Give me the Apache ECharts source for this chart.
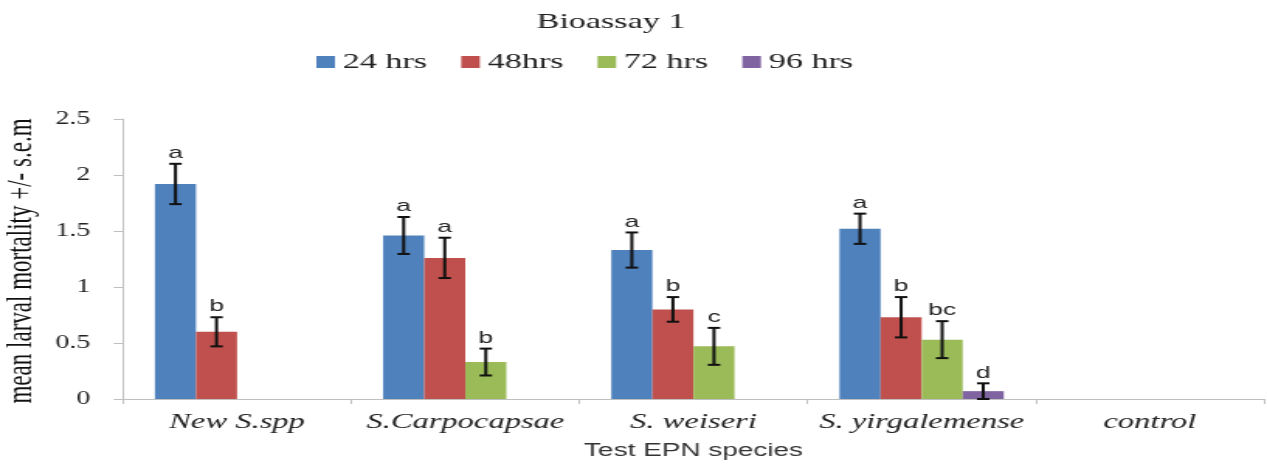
<!DOCTYPE html>
<html>
<head>
<meta charset="utf-8">
<script src="https://cdn.jsdelivr.net/npm/echarts@6/dist/echarts.min.js"></script>
<style>
html,body{margin:0;padding:0;background:#fff;overflow:hidden;}
#chart{width:817px;height:465px;transform:scaleX(1.5508);transform-origin:0 0;}
</style>
</head>
<body>
<div id="chart"></div>
<script>
// ---- data ----
const categories = ['New S.spp', 'S.Carpocapsae', 'S. weiseri', 'S. yirgalemense', 'control'];
const seriesNames = ['24 hrs', '48hrs', '72 hrs', '96 hrs'];
const h24 = [1.92, 1.46, 1.33, 1.52, 0];
const h48 = [0.60, 1.26, 0.80, 0.73, 0];
const h72 = [0, 0.33, 0.47, 0.53, 0];
const h96 = [0, 0, 0, 0.07, 0];
const err24 = [0.18, 0.165, 0.157, 0.135, null];
const err48 = [0.13, 0.18, 0.11, 0.18, null];
const err72 = [null, 0.12, 0.165, 0.165, null];
const err96 = [null, null, null, 0.07, null];
const let24 = ['a', 'a', 'a', 'a', null];
const let48 = ['b', 'a', 'b', 'b', null];
const let72 = [null, 'b', 'c', 'bc', null];
const let96 = [null, null, null, 'd', null];
const yTicks = [0, 0.5, 1, 1.5, 2, 2.5];

const values = [h24, h48, h72, h96];
const errs = [err24, err48, err72, err96];
const letters = [let24, let48, let72, let96];
const colors = ['#4F81BD', '#C0504D', '#9BBB59', '#8064A2'];
const catGap = 0.28;

const chart = echarts.init(document.getElementById('chart'), null, {renderer: 'canvas'});

const series = [];
values.forEach((vals, k) => {
  series.push({
    name: seriesNames[k], type: 'bar', data: vals,
    barGap: '0%', barCategoryGap: (catGap * 100) + '%',
    itemStyle: {color: colors[k]}
  });
});
values.forEach((vals, k) => {
  const data = [];
  vals.forEach((v, j) => { if (errs[k][j] != null) data.push([j, v, errs[k][j]]); });
  series.push({
    name: 'err' + k, type: 'custom', coordinateSystem: 'cartesian2d', z: 10, clip: false,
    data: data,
    renderItem: function (params, api) {
      const j = api.value(0), v = api.value(1), e = api.value(2);
      const band = api.size([1, 0])[0];
      const bw = band * (1 - catGap) / 4;
      const cx = api.coord([j, 0])[0] - band * (1 - catGap) / 2 + bw * (k + 0.5);
      const yT = api.coord([j, v + e])[1];
      const yB = api.coord([j, Math.max(v - e, 0)])[1];
      const hw = 4;
      const st = {stroke: '#111', lineWidth: 2};
      const children = [
        {type: 'line', shape: {x1: cx, y1: yT, x2: cx, y2: yB}, style: st},
        {type: 'line', shape: {x1: cx - hw, y1: yT, x2: cx + hw, y2: yT}, style: st},
        {type: 'line', shape: {x1: cx - hw, y1: yB, x2: cx + hw, y2: yB}, style: st}
      ];
      const L = letters[k][j];
      if (L) {
        children.push({type: 'text', style: {
          text: L, x: cx, y: yT - 2, align: 'center', verticalAlign: 'bottom',
          fontFamily: 'Liberation Sans', fontSize: 17, fill: '#222'
        }});
      }
      return {type: 'group', children: children};
    }
  });
});

chart.setOption({
  animation: false,
  title: {
    text: 'Bioassay 1', left: 341, top: 6,
    textStyle: {fontFamily: 'Liberation Serif', fontSize: 22, fontWeight: 'normal', color: '#222'}
  },
  legend: {
    data: seriesNames, left: 199, top: 46, icon: 'rect',
    itemWidth: 12, itemHeight: 12, itemGap: 22,
    textStyle: {fontFamily: 'Liberation Serif', fontSize: 22, color: '#222'}
  },
  grid: {left: 79.3, right: 2, top: 119, bottom: 62, containLabel: false},
  xAxis: {
    type: 'category', data: categories,
    axisLine: {lineStyle: {color: '#bfbfbf', width: 1}},
    axisTick: {show: true, length: 5, lineStyle: {color: '#bfbfbf'}},
    axisLabel: {interval: 0, hideOverlap: false, fontFamily: 'Liberation Serif', fontStyle: 'italic', fontSize: 21, color: '#222', margin: 13},
    name: 'Test EPN species', nameLocation: 'middle', nameGap: 43,
    nameTextStyle: {fontFamily: 'Liberation Sans', fontSize: 18, color: '#333'}
  },
  yAxis: {
    type: 'value', min: yTicks[0], max: yTicks[yTicks.length - 1], interval: 0.5,
    axisLine: {show: true, lineStyle: {color: '#bfbfbf', width: 1}},
    axisTick: {show: true, length: 6, lineStyle: {color: '#bfbfbf'}},
    splitLine: {show: false},
    axisLabel: {fontFamily: 'Liberation Serif', fontSize: 18, color: '#222', margin: 21}
  },
  graphic: [{
    type: 'text', x: 14, y: 261, rotation: Math.PI / 2,
    style: {text: 'mean larval mortality +/- s.e.m', align: 'center', verticalAlign: 'middle',
      fontFamily: 'Liberation Serif', fontSize: 23, fill: '#111'}
  }],
  series: series
});
</script>
</body>
</html>
